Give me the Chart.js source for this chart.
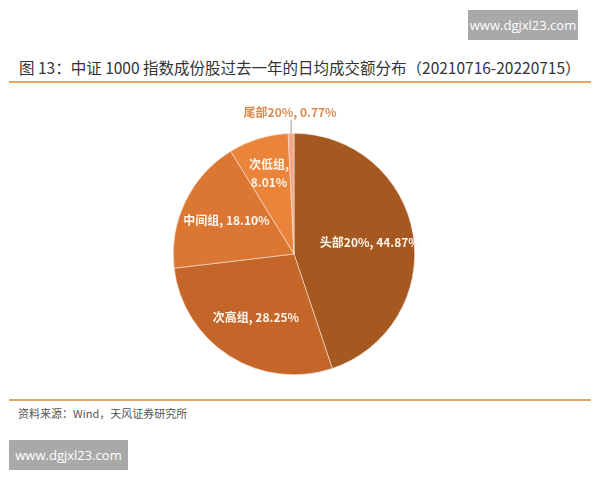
<!DOCTYPE html>
<html><head><meta charset="utf-8">
<script src="https://cdn.jsdelivr.net/npm/chart.js@4/dist/chart.umd.min.js"></script>
<style>
html,body{margin:0;padding:0;background:#fff;width:600px;height:480px;overflow:hidden;font-family:"Noto Sans CJK SC","Noto Sans",sans-serif;}
.wm{position:absolute;background:#a9a9a9;color:#fff;font-family:"Open Sans","Noto Sans",sans-serif;font-size:13px;display:flex;align-items:center;justify-content:center;}
#title{position:absolute;left:19px;top:56px;font-size:15.5px;color:#333;white-space:nowrap;}
.line{position:absolute;left:9px;width:582px;height:1.5px;background:#e2a866;}
#src{position:absolute;left:18px;top:405px;font-size:11px;color:#555;}
#box{position:absolute;left:144px;top:104px;width:300px;height:300px;}
</style></head><body>
<div class="wm" style="left:468px;top:10px;width:110px;height:30px;">www.dgjxl23.com</div>
<div id="title">图 13：中证 1000 指数成份股过去一年的日均成交额分布（20210716-20220715）</div>
<div class="line" style="top:81px;"></div>
<div class="line" style="top:399px;"></div>
<div id="src">资料来源：Wind，天风证券研究所</div>
<div class="wm" style="left:9px;top:440px;width:119px;height:30px;">www.dgjxl23.com</div>
<div id="box"><canvas id="c"></canvas></div>
<script>
const categories = ["头部20%", "次高组", "中间组", "次低组", "尾部20%"];
const values = [44.87, 28.25, 18.10, 8.01, 0.77];
const colors = ["#a5581f", "#c4652a", "#db7633", "#eb843b", "#f3a688"];

const labelPlugin = {
  id: 'sliceLabels',
  afterDatasetsDraw(chart) {
    const ctx = chart.ctx;
    const meta = chart.getDatasetMeta(0);
    ctx.save();
    ctx.font = 'bold 12px "Noto Sans CJK SC", "Noto Sans", sans-serif';
    ctx.textAlign = 'center';
    ctx.textBaseline = 'middle';
    meta.data.forEach((arc, i) => {
      const p = arc.getProps(['x','y','startAngle','endAngle','outerRadius'], true);
      const mid = (p.startAngle + p.endAngle) / 2;
      const txt = categories[i] + ', ' + values[i].toFixed(2) + '%';
      if (i === 4) {
        const x0 = p.x + Math.cos(mid) * p.outerRadius;
        const y0 = p.y + Math.sin(mid) * p.outerRadius;
        ctx.strokeStyle = '#999';
        ctx.lineWidth = 1;
        ctx.beginPath();
        ctx.moveTo(x0, y0);
        ctx.lineTo(x0, y0 - 13);
        ctx.stroke();
        ctx.fillStyle = '#dc8a4e';
        ctx.fillText(txt, x0 - 1, y0 - 21);
        return;
      }
      ctx.fillStyle = '#fff6ee';
      const rf = [0.62, 0.62, 0.64, 0.7][i];
      const x = p.x + Math.cos(mid) * p.outerRadius * rf;
      const y = p.y + Math.sin(mid) * p.outerRadius * rf;
      if (i === 3) {
        ctx.fillText(categories[i] + ',', x, y - 9);
        ctx.fillText(values[i].toFixed(2) + '%', x, y + 9);
      } else if (i === 0) {
        ctx.fillText(txt, x + 2, y);
      } else {
        ctx.fillText(txt, x + 2, y);
      }
    });
    ctx.restore();
  }
};

new Chart(document.getElementById('c'), {
  type: 'pie',
  data: { labels: categories, datasets: [{ data: values, backgroundColor: colors, borderColor: '#f7e6da', borderWidth: 0.6 }] },
  options: {
    responsive: true, maintainAspectRatio: false, animation: false,
    layout: { padding: 29 },
    plugins: { legend: { display: false }, tooltip: { enabled: false } }
  },
  plugins: [labelPlugin]
});
</script>
</body></html>
